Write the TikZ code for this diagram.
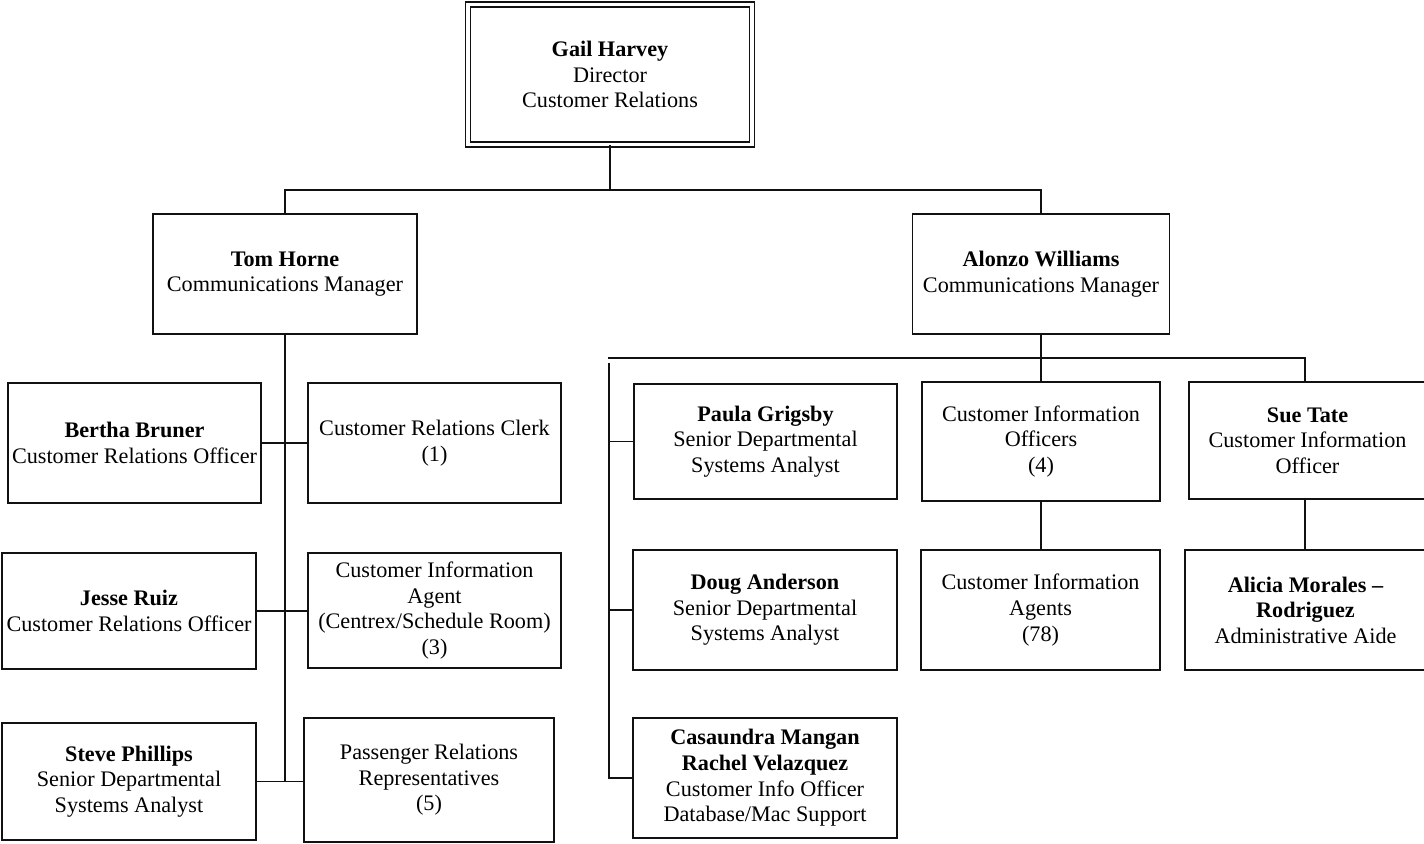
\documentclass[tikz,border=0pt]{standalone}
\usepackage{fontspec}
\setmainfont{Liberation Serif}
\usetikzlibrary{positioning,calc}
\definecolor{orgLine}{HTML}{111111}

\newcommand{\orgfont}{\fontsize{11.1}{12.8}\selectfont}

\tikzset{
  unit/.style={draw=orgLine, line width=0.9pt, align=center, inner sep=0pt,
               font=\orgfont, fill=white},
  headunit/.style={unit, double, double distance=1.9pt, line width=0.6pt},
  link/.style={draw=orgLine, line width=0.9pt}
}

\begin{document}
\begin{tikzpicture}[x=0.5pt, y=-0.5pt]

% --- CANVAS (pixel grid, origin top left) ---
\useasboundingbox (0,0) rectangle (1424,843);

% --- LEVEL 0 ---
\node[headunit, minimum width=142pt, minimum height=70pt] (gail) at (610,74.5)
  {\textbf{Gail Harvey}\\Director\\Customer Relations};

% --- LEVEL 1 ---
\node[unit, minimum width=132pt, minimum height=60pt] (tom) at (285,274)
  {\textbf{Tom Horne}\\Communications Manager};
\node[unit, minimum width=128.5pt, minimum height=60pt] (alonzo) at (1041,274)
  {\textbf{Alonzo Williams}\\Communications Manager};

% --- TOM HORNE: LEFT COLUMN ---
\node[unit, minimum width=126.5pt, minimum height=60pt] (bertha) at (134.5,443)
  {\textbf{Bertha Bruner}\\Customer Relations Officer};
\node[unit, minimum width=127pt, minimum height=58pt] (jesse) at (129,611)
  {\textbf{Jesse Ruiz}\\Customer Relations Officer};
\node[unit, minimum width=127pt, minimum height=58.5pt] (steve) at (129,781.5)
  {\textbf{Steve Phillips}\\Senior Departmental\\Systems Analyst};

% --- TOM HORNE: RIGHT COLUMN ---
\node[unit, minimum width=126.5pt, minimum height=60pt] (clerk) at (434.5,443)
  {Customer Relations Clerk\\(1)};
\node[unit, minimum width=126.5pt, minimum height=57.5pt] (agent) at (434.5,610.5)
  {Customer Information\\Agent\\(Centrex/Schedule Room)\\(3)};
\node[unit, minimum width=125pt, minimum height=62pt] (passenger) at (429,780)
  {Passenger Relations\\Representatives\\(5)};

% --- ALONZO WILLIAMS: ANALYSTS ---
\node[unit, minimum width=131.5pt, minimum height=57.5pt] (paula) at (765.5,441.5)
  {\textbf{Paula Grigsby}\\Senior Departmental\\Systems Analyst};
\node[unit, minimum width=132pt, minimum height=60pt] (doug) at (765,610)
  {\textbf{Doug Anderson}\\Senior Departmental\\Systems Analyst};
\node[unit, minimum width=132pt, minimum height=60pt] (casaundra) at (765,778)
  {\textbf{Casaundra Mangan}\\\textbf{Rachel Velazquez}\\Customer Info Officer\\Database/Mac Support};

% --- ALONZO WILLIAMS: INFORMATION ---
\node[unit, minimum width=119pt, minimum height=59.5pt] (cio) at (1041,441.5)
  {Customer Information\\Officers\\(4)};
\node[unit, minimum width=119.5pt, minimum height=60pt] (cia) at (1040.5,610)
  {Customer Information\\Agents\\(78)};
\node[unit, minimum width=118.5pt, minimum height=58.5pt] (sue) at (1307.5,440.5)
  {\textbf{Sue Tate}\\Customer Information\\Officer};
\node[unit, minimum width=120.5pt, minimum height=60pt] (alicia) at (1305.5,610)
  {\textbf{Alicia Morales --}\\\textbf{Rodriguez}\\Administrative Aide};

% --- CONNECTORS: TOP ---
\coordinate (topbus) at (610,190);
\draw[link] (gail.south) -- (topbus);
\draw[link] (tom.north) |- (topbus) -| (alonzo.north);

% --- CONNECTORS: TOM HORNE ---
\draw[link] (tom.south) -- (tom.south |- steve.east);
\draw[link] (bertha.east) -- (bertha.east -| clerk.west);
\draw[link] (jesse.east) -- (jesse.east -| agent.west);
\draw[link] (steve.east) -- (steve.east -| passenger.west);

% --- CONNECTORS: ALONZO WILLIAMS ---
\coordinate (lbus) at (608,358);
\coordinate (rbus) at (1305,358);
\coordinate (spinetop) at (609,363);
\draw[link] (alonzo.south) -- (alonzo.south |- cio.north);
\draw[link] (lbus) -- (rbus) -- (rbus |- sue.north);
\draw[link] (spinetop) |- (casaundra.west);
\draw[link] (spinetop |- paula.west) -- (paula.west);
\draw[link] (spinetop |- doug.west) -- (doug.west);
\draw[link] (cio.south -| alonzo.south) -- (cia.north -| alonzo.south);
\draw[link] (rbus |- sue.south) -- (rbus |- alicia.north);

\end{tikzpicture}
\end{document}
